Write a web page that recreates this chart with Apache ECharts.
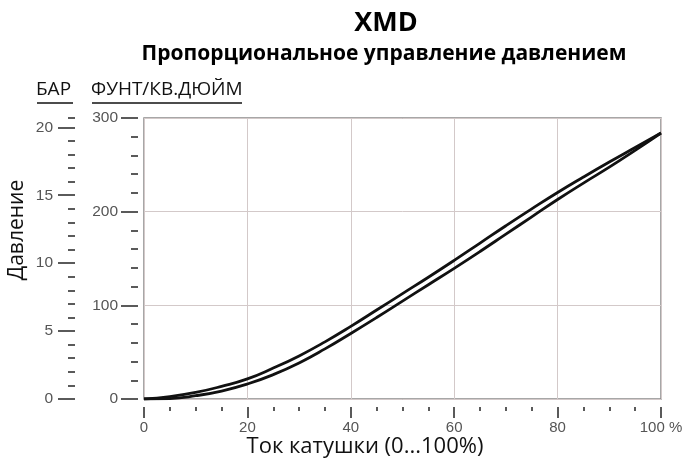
<!DOCTYPE html>
<html>
<head>
<meta charset="utf-8">
<script src="https://cdn.jsdelivr.net/npm/echarts@6/dist/echarts.min.js"></script>
<style>html,body{margin:0;padding:0;background:#fff}#c{width:691px;height:459px}</style>
</head>
<body>
<div id="c"></div>
<script>
// Data
const currentPct = [0, 5, 10, 15, 20, 25, 30, 35, 40, 45, 50, 55, 60, 65, 70, 75, 80, 85, 90, 95, 100];
const pressureUp = [0, 2.5, 7, 13.5, 21.5, 33, 46, 61, 77.5, 95, 112.5, 130, 148, 166.5, 185, 203, 220.5, 237, 253, 268.5, 284];
const pressureDown = [0, 0.5, 3.5, 8.5, 16, 26, 38.5, 53.5, 70, 87, 104.5, 122, 139.5, 157.5, 176, 194.5, 213, 230.5, 247.5, 265.5, 284];
const psiTicks = [0, 100, 200, 300];
const barMajorTicks = [0, 5, 10, 15, 20];
const PSI_PER_BAR = 14.5038;
const PSI_MAX = 300;

const tickColor = '#5a5a5a';
const labelColor = '#555';
const labelFont = 'Liberation Sans';

const chart = echarts.init(document.getElementById('c'), null, {renderer: 'canvas'});

const upData = currentPct.map((x, i) => [x, pressureUp[i]]);
const downData = currentPct.map((x, i) => [x, pressureDown[i]]);

const option = {
  animation: false,
  backgroundColor: '#fff',
  grid: {left: 144, right: 30, top: 118, bottom: 60, show: true, borderColor: '#8a8a8a', borderWidth: 1.5,
         outerBoundsMode: 'none', containLabel: false},
  xAxis: [
    {type: 'value', min: 0, max: 100, interval: 20, position: 'bottom',
     axisLine: {show: false, onZero: false}, axisTick: {show: false}, axisLabel: {show: false},
     splitLine: {show: true, lineStyle: {color: '#d3c9c9', width: 1}}},
    {type: 'value', min: 0, max: 100, interval: 20, position: 'bottom', offset: 8,
     axisLine: {show: false, onZero: false},
     axisTick: {show: true, length: 11, lineStyle: {color: tickColor, width: 2}},
     minorTick: {show: true, splitNumber: 4, length: 4, lineStyle: {color: tickColor, width: 2}},
     axisLabel: {margin: 13, color: labelColor, fontSize: 15, fontFamily: labelFont,
       formatter: v => v === 100 ? '100 %' : String(v)},
     splitLine: {show: false}}
  ],
  yAxis: [
    {type: 'value', min: 0, max: PSI_MAX, interval: 100, position: 'left',
     axisLine: {show: false, onZero: false}, axisTick: {show: false}, axisLabel: {show: false},
     splitLine: {show: true, lineStyle: {color: '#d3c9c9', width: 1}}},
    {type: 'value', min: 0, max: PSI_MAX, interval: 100, position: 'left', offset: 6,
     axisLine: {show: false, onZero: false},
     axisTick: {show: true, length: 17, lineStyle: {color: tickColor, width: 2}},
     minorTick: {show: true, splitNumber: 5, length: 7, lineStyle: {color: tickColor, width: 2}},
     axisLabel: {margin: 20, color: labelColor, fontSize: 15.5, fontFamily: labelFont,
       customValues: psiTicks},
     splitLine: {show: false}},
    {type: 'value', min: 0, max: PSI_MAX / PSI_PER_BAR, position: 'left', offset: 69,
     axisLine: {show: false, onZero: false},
     axisTick: {show: true, length: 17, customValues: barMajorTicks, lineStyle: {color: tickColor, width: 2}},
     axisLabel: {margin: 22, color: labelColor, fontSize: 15.5, fontFamily: labelFont,
       customValues: barMajorTicks},
     splitLine: {show: false}},
    {type: 'value', min: 0, max: PSI_MAX / PSI_PER_BAR, interval: 1, position: 'left', offset: 69,
     axisLine: {show: false, onZero: false},
     axisTick: {show: true, length: 7, lineStyle: {color: tickColor, width: 2}},
     axisLabel: {show: false},
     splitLine: {show: false}}
  ],
  graphic: [
    {type: 'text', x: 386, y: 10, style: {text: 'XMD', fill: '#000', font: 'bold 27px "Open Sans"', textAlign: 'center', textVerticalAlign: 'top'}},
    {type: 'text', x: 384, y: 44, style: {text: 'Пропорциональное управление давлением', fill: '#000', font: 'bold 21px "Open Sans"', textAlign: 'center', textVerticalAlign: 'top'}},
    {type: 'text', x: 36, y: 80, style: {text: 'БАР', fill: '#111', font: '19px "Open Sans"', textVerticalAlign: 'top'}},
    {type: 'line', shape: {x1: 37, y1: 103, x2: 73, y2: 103}, style: {stroke: '#111', lineWidth: 1.3}},
    {type: 'text', x: 91, y: 80, style: {text: 'ФУНТ/КВ.ДЮЙМ', fill: '#111', font: '19px "Open Sans"', textVerticalAlign: 'top'}},
    {type: 'line', shape: {x1: 92, y1: 103, x2: 242, y2: 103}, style: {stroke: '#111', lineWidth: 1.3}},
    {type: 'text', x: 17, y: 230, rotation: Math.PI / 2, style: {text: 'Давление', fill: '#111', font: '21px "Open Sans"', textAlign: 'center', textVerticalAlign: 'middle'}},
    {type: 'text', x: 365, y: 436, style: {text: 'Ток катушки (0...100%)', fill: '#111', font: '22px "Open Sans"', textAlign: 'center', textVerticalAlign: 'top'}}
  ],
  series: [
    {type: 'line', xAxisIndex: 0, yAxisIndex: 0, data: upData, smooth: 0.5, showSymbol: false,
     lineStyle: {color: '#111', width: 2.8}, z: 5},
    {type: 'line', xAxisIndex: 0, yAxisIndex: 0, data: downData, smooth: 0.5, showSymbol: false,
     lineStyle: {color: '#111', width: 2.8}, z: 5}
  ]
};
chart.setOption(option);
</script>
</body>
</html>
